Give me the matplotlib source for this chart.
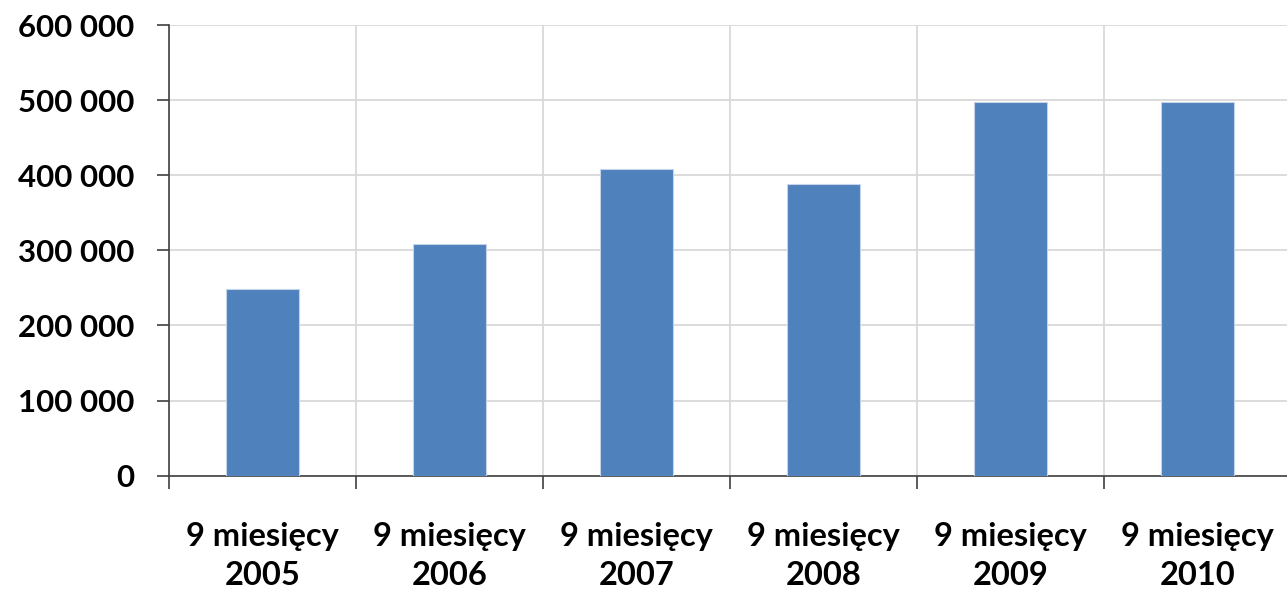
import numpy as np
import matplotlib.pyplot as plt
from matplotlib.ticker import FuncFormatter

# data
years = ["2005", "2006", "2007", "2008", "2009", "2010"]
values = [248000, 308000, 409000, 389000, 497000, 497000]
labels = ["9 miesięcy\n" + y for y in years]

plt.rcParams['font.family'] = ['Lato', 'DejaVu Sans']
plt.rcParams['font.weight'] = 'bold'

fig = plt.figure(figsize=(12.87, 5.96), dpi=100)
ax = fig.add_axes([0.1313, 0.2018, 0.872, 0.7562])

x = np.arange(len(years))
ax.bar(x, values, width=0.39, color="#4f81bd", edgecolor="#c5d3e8", linewidth=0.8, zorder=3)

ax.set_xlim(-0.5, len(years) - 0.5)
ax.set_ylim(0, 600000)
ax.set_yticks(np.arange(0, 600001, 100000))
ax.yaxis.set_major_formatter(FuncFormatter(lambda v, p: f"{int(v):,}".replace(",", " ")))

# labels at bar centres, tick marks at category boundaries
ax.set_xticks(x)
ax.set_xticklabels(labels, fontsize=23.5, fontweight='bold', linespacing=1.45)
ax.set_xticks(np.arange(-0.5, len(years)), minor=True)
ax.tick_params(axis='x', which='major', length=0, pad=33)
ax.tick_params(axis='x', which='minor', length=9, width=1.2, color="#404040")
ax.tick_params(axis='y', length=9, width=1.2, color="#404040", labelsize=22.5, pad=16)
for t in ax.get_yticklabels():
    t.set_fontweight('bold')

ax.grid(axis='y', color="#d9d9d9", linewidth=1.3, zorder=0)
ax.grid(axis='x', which='minor', color="#d9d9d9", linewidth=1.3, zorder=0)

for s in ['top', 'right']:
    ax.spines[s].set_visible(False)
for s in ['left', 'bottom']:
    ax.spines[s].set_color("#404040")
    ax.spines[s].set_linewidth(1.2)

fig.savefig("out.png", dpi=100)
